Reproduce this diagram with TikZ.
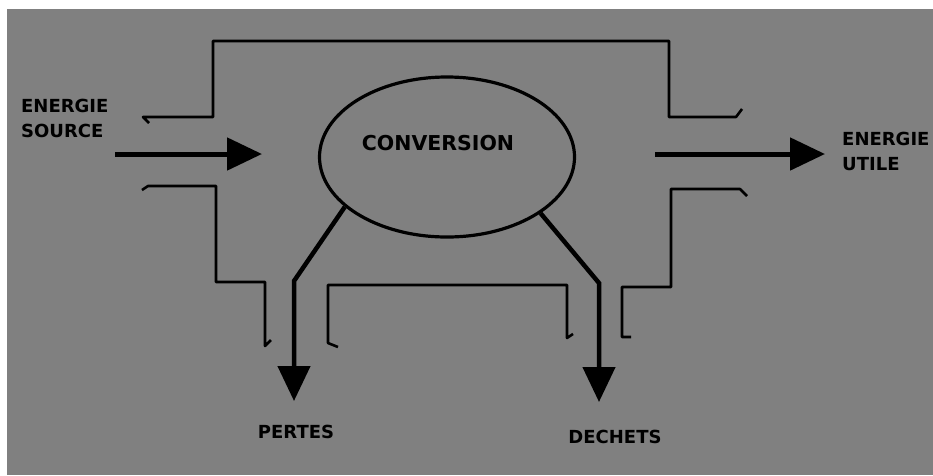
\documentclass[tikz,border=0pt]{standalone}
\usepackage{fontspec}
\setmainfont{DejaVu Sans}
\usetikzlibrary{shapes.geometric,arrows.meta}
\definecolor{panel}{RGB}{128,128,128}
\begin{document}
\begin{tikzpicture}[
		x=1pt, y=-1pt,
		wall/.style={line width=2.6pt, line join=round},
		flow/.style={line width=5pt, -{Triangle[length=35pt,width=32pt]}},
		word/.style={font=\bfseries\fontsize{18}{25}\selectfont, align=left, inner sep=0pt}
	]
	\fill[white] (0,0) rectangle (933,475);
	\fill[panel] (7,9) rectangle (933,475);

	\node[ellipse, draw, line width=3.2pt, minimum width=255pt, minimum height=160pt] (conv) at (447,157) {};
	\node[word, font=\bfseries\fontsize{20.5}{25}\selectfont] (convname) at (438,143) {CONVERSION};
	\node[word, anchor=west] (source) at (21,118.5) {ENERGIE\\SOURCE};
	\node[word, anchor=west] (utile) at (842,151) {ENERGIE\\UTILE};
	\node[word] (pertes) at (296,432) {PERTES};
	\node[word] (dechets) at (615,437) {DECHETS};

	\coordinate (srcstart) at (115,154);
	\coordinate (srcend) at (262,154);
	\coordinate (outstart) at (655,154);
	\coordinate (outend) at (825,154);
	\coordinate (pertesbend) at (294,281);
	\coordinate (pertesend) at (294,401);
	\coordinate (dechetsbend) at (599,283);
	\coordinate (dechetsend) at (599,402);

	\draw[flow] (srcstart) -- (srcend);
	\draw[flow] (outstart) -- (outend);
	\draw[flow, line width=4.5pt] (conv.206) -- (pertesbend) -- (pertesend);
	\draw[flow, line width=4.5pt] (conv.329) -- (dechetsbend) -- (dechetsend);

	\draw[wall] (149,123) -- (143,117) -- (213,117) -- (213,41) -- (669,41) -- (669,117) -- (736,117) -- (742,109);
	\draw[wall] (142,190) -- (148,186) -- (216,186) -- (216,282) -- (265,282) -- (265,346) -- (271,340);
	\draw[wall] (338,347) -- (328,343) -- (328,285) -- (567,285) -- (567,338) -- (573,334);
	\draw[wall] (747,196) -- (740,189) -- (671,189) -- (671,287) -- (622,287) -- (622,337) -- (631,337);
\end{tikzpicture}
\end{document}
